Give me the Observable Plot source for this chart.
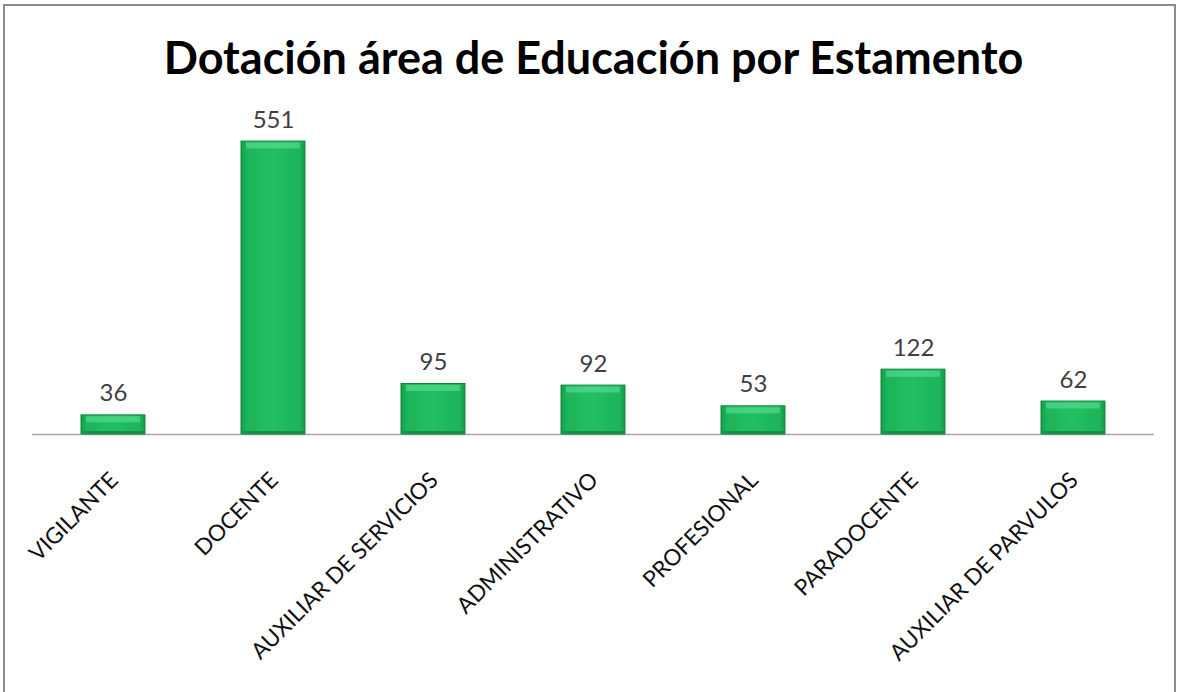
<!DOCTYPE html>
<html>
<head>
<meta charset="utf-8">
<script src="https://cdn.jsdelivr.net/npm/d3@7"></script>
<script src="https://cdn.jsdelivr.net/npm/@observablehq/plot@0.6"></script>
<style>
  html, body { margin: 0; padding: 0; background: #fff; }
  #wrap { position: relative; width: 1179px; height: 692px; overflow: hidden; }
  #border { position: absolute; left: 3px; top: 4px; width: 1173px; height: 720px; border: 2px solid #8c8c8c; box-sizing: border-box; pointer-events: none; }
</style>
</head>
<body>
<div id="wrap"><div id="border"></div></div>
<script>
const categories = ["VIGILANTE", "DOCENTE", "AUXILIAR DE SERVICIOS", "ADMINISTRATIVO", "PROFESIONAL", "PARADOCENTE", "AUXILIAR DE PARVULOS"];
const values = [36, 551, 95, 92, 53, 122, 62];
const title = "Dotación área de Educación por Estamento";

const data = categories.map((c, i) => ({cat: c, value: values[i]}));

const chart = Plot.plot({
  width: 1179,
  height: 692,
  marginLeft: 32,
  marginRight: 25,
  marginTop: 115,
  marginBottom: 258,
  style: {fontFamily: "Lato, sans-serif", background: "transparent"},
  x: {domain: categories, paddingInner: 0.6, paddingOuter: 0.3, axis: null},
  y: {domain: [0, 600], axis: null},
  marks: [
    Plot.ruleY([0], {stroke: "#a6a6a6", strokeWidth: 1.5}),
    Plot.barY(data, {x: "cat", y: "value", fill: "url(#barGrad)", stroke: "#118a3f", strokeWidth: 1}),
    Plot.tickY(data, {x: "cat", y: "value", stroke: "#5ee096", strokeWidth: 6, dy: 4, strokeOpacity: 0.6, insetLeft: 5, insetRight: 5}),
    Plot.tickY(data, {x: "cat", y: 0, stroke: "#13924a", strokeWidth: 3, dy: -2, insetLeft: 1, insetRight: 1}),
    Plot.text(data, {x: "cat", y: "value", text: d => String(d.value), lineAnchor: "bottom", dy: -14, fontSize: 24, fill: "#404040"}),
    Plot.text(data, {x: "cat", y: 0, text: "cat", rotate: -45, textAnchor: "end", lineAnchor: "bottom", dx: 6, dy: 47, fontSize: 22.5, fill: "#111"}),
    Plot.text([title], {frameAnchor: "top", text: d => d, lineAnchor: "bottom", dy: -42, fontSize: 45, fontWeight: "bold", fill: "#000"})
  ]
});

chart.insertAdjacentHTML("afterbegin",
  `<defs>
    <linearGradient id="barGrad" x1="0" y1="0" x2="1" y2="0">
      <stop offset="0" stop-color="#149a49"/>
      <stop offset="0.08" stop-color="#1cb459"/>
      <stop offset="0.5" stop-color="#22c062"/>
      <stop offset="0.92" stop-color="#1cb459"/>
      <stop offset="1" stop-color="#149a49"/>
    </linearGradient>
  </defs>`);

document.getElementById("wrap").prepend(chart);
</script>
</body>
</html>
